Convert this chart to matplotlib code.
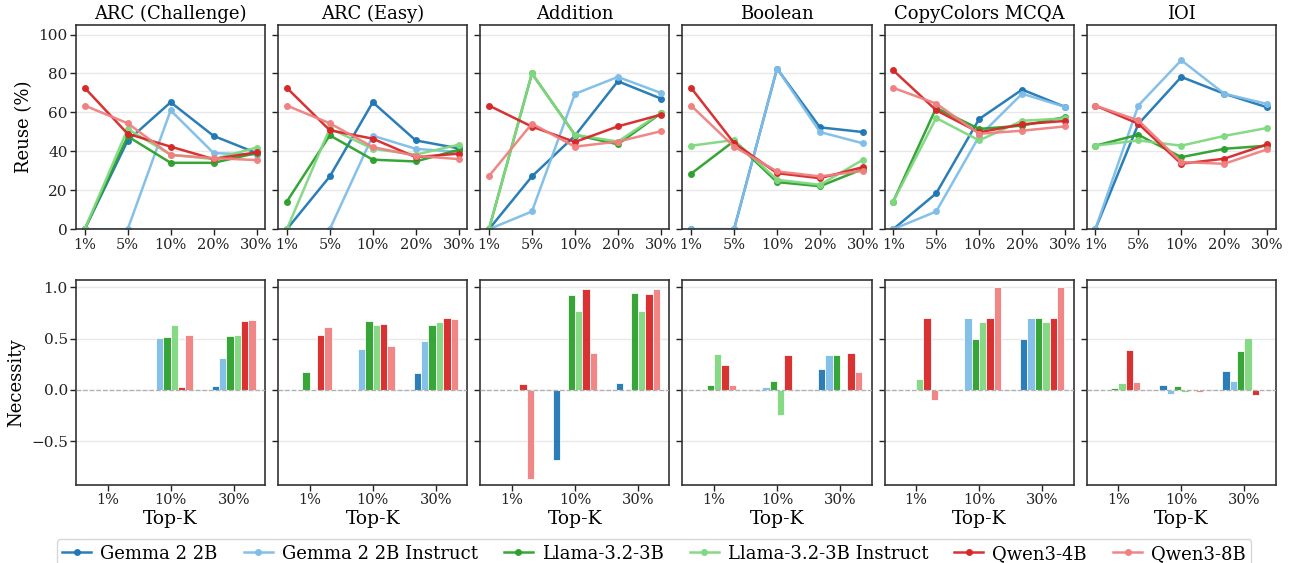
import matplotlib
matplotlib.use('Agg')
import matplotlib.pyplot as plt
import numpy as np

plt.rcParams['font.family'] = ['DejaVu Serif']

TASKS = ['ARC (Challenge)', 'ARC (Easy)', 'Addition', 'Boolean', 'CopyColors MCQA', 'IOI']
MODELS = ['Gemma 2 2B', 'Gemma 2 2B Instruct', 'Llama-3.2-3B', 'Llama-3.2-3B Instruct', 'Qwen3-4B', 'Qwen3-8B']
COLORS = ['#1f77b4', '#7fbde8', '#2ca02c', '#80d880', '#d62728', '#f08080']

TOPK_REUSE = ['1%', '5%', '10%', '20%', '30%']
TOPK_NEC = ['1%', '10%', '30%']

# reuse (%) per task, one row per model
reuse = {
    'ARC (Challenge)': [
        [0, 45.5, 65.2, 47.9, 39.1],
        [0, 0, 61.0, 39.1, 38.3],
        [0, 47.7, 34.1, 34.1, 39.1],
        [0, 51.5, 38.3, 36.0, 41.9],
        [72.6, 49.0, 42.4, 36.0, 39.5],
        [63.5, 54.4, 38.1, 36.5, 35.5],
    ],
    'ARC (Easy)': [
        [0, 27.1, 65.2, 45.6, 41.5],
        [0, 0, 48.0, 41.3, 39.6],
        [14.2, 48.2, 35.7, 34.8, 40.8],
        [0, 51.8, 41.3, 38.3, 43.4],
        [72.6, 50.8, 46.5, 37.0, 38.8],
        [63.5, 54.4, 42.2, 37.7, 36.0],
    ],
    'Addition': [
        [0, 27.1, 48.0, 76.0, 67.1],
        [0, 9.1, 69.5, 78.2, 70.0],
        [0, 80.0, 48.5, 43.6, 59.5],
        [0, 80.0, 48.5, 45.0, 59.7],
        [63.5, 52.7, 44.8, 52.8, 58.8],
        [27.3, 54.2, 42.4, 45.0, 50.3],
    ],
    'Boolean': [
        [0, 0, 82.5, 52.3, 49.9],
        [0, 0, 82.5, 49.9, 44.1],
        [28.5, 45.3, 24.2, 22.1, 30.9],
        [42.9, 45.8, 25.4, 22.8, 35.7],
        [72.6, 44.3, 28.8, 26.2, 31.9],
        [63.5, 42.4, 29.7, 27.1, 30.0],
    ],
    'CopyColors MCQA': [
        [0, 18.4, 56.6, 71.7, 62.8],
        [0, 9.1, 47.7, 69.6, 62.8],
        [14.2, 62.3, 51.5, 53.2, 57.6],
        [14.2, 57.1, 45.6, 55.7, 56.9],
        [81.6, 61.1, 49.7, 53.9, 55.6],
        [72.6, 64.5, 49.0, 50.6, 52.8],
    ],
    'IOI': [
        [0, 54.0, 78.2, 69.6, 62.6],
        [0, 63.5, 86.8, 69.6, 64.3],
        [42.9, 48.5, 37.0, 41.3, 42.9],
        [42.9, 45.6, 42.9, 47.9, 52.0],
        [63.5, 54.2, 33.6, 36.2, 43.6],
        [63.5, 55.9, 34.5, 33.6, 41.0],
    ],
}

# necessity per task, one row per model
necessity = {
    'ARC (Challenge)': [
        [0, 0, 0.039],
        [0, 0.506, 0.31],
        [0, 0.516, 0.526],
        [0, 0.63, 0.536],
        [0, 0.026, 0.669],
        [-0.01, 0.536, 0.682],
    ],
    'ARC (Easy)': [
        [0, 0, 0.166],
        [0, 0.403, 0.477],
        [0.175, 0.669, 0.633],
        [0, 0.633, 0.662],
        [0.536, 0.64, 0.701],
        [0.614, 0.429, 0.688],
    ],
    'Addition': [
        [0, -0.688, 0.068],
        [0, 0, 0],
        [0, 0.925, 0.945],
        [0, 0.773, 0.773],
        [0.062, 0.99, 0.932],
        [-0.867, 0.36, 0.984],
    ],
    'Boolean': [
        [0, -0.013, 0.205],
        [0, 0.032, 0.341],
        [0.049, 0.084, 0.344],
        [0.351, -0.24, -0.013],
        [0.244, 0.338, 0.364],
        [0.049, -0.013, 0.172],
    ],
    'CopyColors MCQA': [
        [0, 0, 0.497],
        [0, 0.698, 0.698],
        [0, 0.497, 0.698],
        [0.104, 0.662, 0.662],
        [0.698, 0.698, 0.698],
        [-0.1, 1.0, 1.0],
    ],
    'IOI': [
        [0, 0.045, 0.188],
        [0, -0.039, 0.084],
        [0.016, 0.036, 0.38],
        [0.071, -0.016, 0.51],
        [0.386, 0, -0.052],
        [0.081, -0.019, 0],
    ],
}

fig, axes = plt.subplots(2, 6, figsize=(12.9, 5.63), dpi=100, sharey='row')
fig.subplots_adjust(left=0.059, right=0.989, top=0.956, bottom=0.139, wspace=0.069, hspace=0.25)

spine_color = '#333333'
bar_w = 0.7 / len(MODELS)

for j, task in enumerate(TASKS):
    ax = axes[0, j]
    x = np.arange(len(TOPK_REUSE))
    for m, (name, c) in enumerate(zip(MODELS, COLORS)):
        ax.plot(x, reuse[task][m], color=c, lw=1.8, marker='o', ms=4, label=name, alpha=0.95)
    ax.set_title(task, fontsize=13, pad=4)
    ax.set_xticks(x)
    ax.set_xticklabels(TOPK_REUSE)
    ax.set_xlim(-0.2, 4.2)
    ax.set_ylim(0, 105)
    ax.set_yticks([0, 20, 40, 60, 80, 100])
    ax.grid(axis='y', color='#e8e8e8', lw=1)
    ax.set_axisbelow(True)

    ax = axes[1, j]
    xb = np.arange(len(TOPK_NEC))
    for m, c in enumerate(COLORS):
        off = (m - (len(MODELS) - 1) / 2) * bar_w
        ax.bar(xb + off, necessity[task][m], width=bar_w, color=c, edgecolor='white',
               linewidth=0.6, alpha=0.95)
    ax.axhline(0, color='#b0b0b0', lw=0.9, ls='--', zorder=3)
    ax.set_xticks(xb)
    ax.set_xticklabels(TOPK_NEC)
    ax.set_xlim(-0.5, 2.5)
    ax.set_ylim(-0.925, 1.07)
    ax.set_yticks([-0.5, 0.0, 0.5, 1.0])
    ax.grid(axis='y', color='#e8e8e8', lw=1)
    ax.set_axisbelow(True)
    ax.set_xlabel('Top-K', fontsize=13.5, labelpad=2)

for ax in axes.flat:
    for s in ax.spines.values():
        s.set_color(spine_color)
        s.set_linewidth(1.2)
    ax.tick_params(labelsize=10.5, colors='#222222', length=4, width=1, pad=2)
    ax.tick_params(axis='y', labelsize=11)

axes[0, 0].set_ylabel('Reuse (%)', fontsize=13)
axes[1, 0].set_ylabel('Necessity', fontsize=13)

handles, labels = axes[0, 0].get_legend_handles_labels()
fig.legend(handles, labels, loc='upper center', bbox_to_anchor=(0.507, 0.058), ncol=6,
           fontsize=13, frameon=True, edgecolor='#cccccc', handlelength=1.6,
           columnspacing=1.45, handletextpad=0.5, borderpad=0.3)

fig.savefig('out.png', dpi=100)
